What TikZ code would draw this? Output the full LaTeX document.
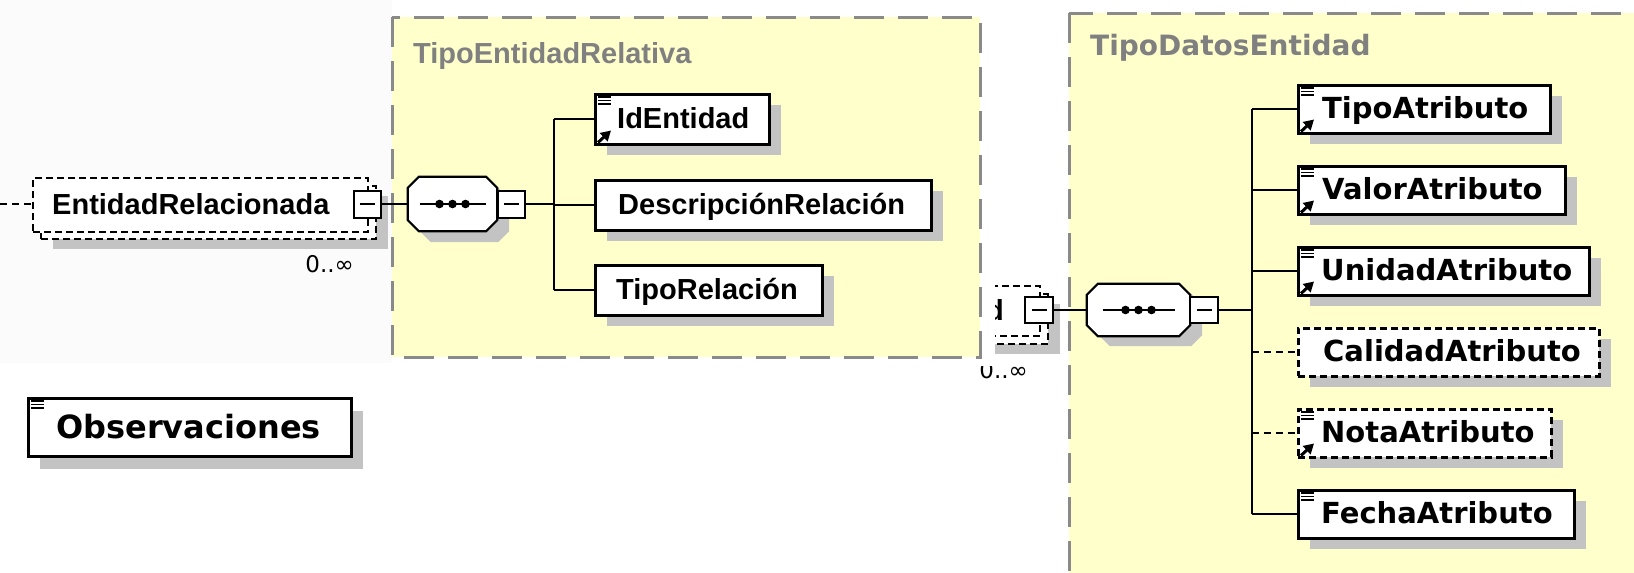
\documentclass[tikz,border=0pt]{standalone}
\usepackage{fontspec}
\newfontfamily\lsans{Liberation Sans}
\newfontfamily\dsans{DejaVu Sans}
\usetikzlibrary{calc,shadows,arrows.meta}
\definecolor{ylw}{RGB}{255,255,204}
\definecolor{frameg}{RGB}{138,138,138}
\definecolor{titleg}{RGB}{128,128,128}
\definecolor{shadowc}{RGB}{195,195,195}
\definecolor{panelg}{RGB}{251,251,251}
\tikzset{
  elbox/.style={draw=black, line width=2.5pt, fill=white, inner sep=0pt, anchor=north west,
     general shadow={fill=shadowc, shadow xshift=12pt, shadow yshift=-11pt}},
  optbox/.style={elbox, dash pattern=on 7pt off 4pt},
  stackbox/.style={draw=black, line width=2.2pt, fill=white, inner sep=0pt, anchor=north west, dash pattern=on 7pt off 4pt},
  ltext/.style={font=\lsans\bfseries\fontsize{29}{34}\selectfont, inner sep=0pt, anchor=base west},
  rtext/.style={font=\dsans\bfseries\fontsize{29}{34}\selectfont, inner sep=0pt, anchor=base west},
  titletext/.style={text=titleg, inner sep=0pt, anchor=base west},
  multtext/.style={font=\dsans\fontsize{23}{26}\selectfont, inner sep=0pt, anchor=north east},
  typebox/.style={draw=frameg, line width=3pt, fill=ylw, dash pattern=on 30pt off 14pt},
  conn/.style={line width=2pt},
  optconn/.style={conn, dash pattern=on 7pt off 5pt},
  minusbox/.style={draw=black, line width=2pt, fill=white, minimum width=27pt, minimum height=27pt, inner sep=0pt},
  seqholder/.style={inner sep=0pt, minimum height=54pt}
}
\newcommand{\docicon}[1]{%
  \foreach \dy in {4,7.5,11} {\draw[line width=1.8pt] ($(#1.north west)+(4,\dy)$) -- ++(13,0);}}
\newcommand{\refarrow}[1]{%
  \draw[line width=3pt, -{Triangle[length=10pt,width=11pt]}] ($(#1.south west)+(4,-3)$) -- ++(13,-12);}
\newcommand{\octpath}[3]{($(#1.north west)+(11+#2,#3)$) -- ($(#1.north east)+(-11+#2,#3)$) -- ($(#1.north east)+(#2,11+#3)$) -- ($(#1.south east)+(#2,-11+#3)$) -- ($(#1.south east)+(-11+#2,#3)$) -- ($(#1.south west)+(11+#2,#3)$) -- ($(#1.south west)+(#2,-11+#3)$) -- ($(#1.north west)+(#2,11+#3)$) -- cycle}
\newcommand{\seqdots}[2]{%
  \draw[line width=2.2pt] ($(#1.center)+(-#2,0)$) -- ($(#1.center)+(#2,0)$);
  \foreach \d in {-13,0,13} {\fill ($(#1.center)+(\d,0)$) circle (4.3pt);}}
\begin{document}
\begin{tikzpicture}[x=1pt,y=-1pt]
\useasboundingbox (0,0) rectangle (1634,573);
\clip (0,0) rectangle (1634,573);
\fill[white] (0,0) rectangle (1634,573);
\fill[panelg] (0,0) rectangle (392,363);

% type boxes
\draw[typebox] (392,17) rectangle (980,357);
\node[titletext, font=\lsans\bfseries\fontsize{29}{34}\selectfont] (t1) at (413,63) {TipoEntidadRelativa};
\draw[typebox] (1069,13) rectangle (1660,600);
\node[titletext, font=\dsans\bfseries\fontsize{28}{32}\selectfont] (t2) at (1090,55) {TipoDatosEntidad};

% EntidadRelacionada (stacked, optional)
\node[stackbox, minimum width=335pt, minimum height=53pt,
      general shadow={fill=shadowc, shadow xshift=12pt, shadow yshift=-10pt}] (erb) at (40,185) {};
\node[stackbox, minimum width=335pt, minimum height=54pt] (er) at (32,177) {};
\node[ltext] (ert) at (52,214) {EntidadRelacionada};
\node[minusbox] (erm) at (367,204) {\rule{15pt}{2pt}};
\node[multtext] (erx) at (354,255) {0..∞};
\coordinate (lead) at (0,204);
\draw[optconn] (lead) -- (lead -| er.west);

% sequence 1
\node[seqholder, minimum width=89pt] (seq1) at (452.5,204) {};
\fill[shadowc] \octpath{seq1}{12}{11};
\draw[line width=2.2pt, fill=white] \octpath{seq1}{0}{0};
\seqdots{seq1}{33}
\node[minusbox] (m1) at (511.5,204) {\rule{15pt}{2pt}};
\draw[conn] (erm.east) -- (seq1.west);

% children of TipoEntidadRelativa
\node[elbox, minimum width=174pt, minimum height=50pt] (id) at (594,93) {};
\node[elbox, minimum width=336pt, minimum height=50pt] (dr) at (594,179) {};
\node[elbox, minimum width=227pt, minimum height=50pt] (tr) at (594,264) {};
\node[ltext] (idt) at (617,128.5) {IdEntidad};
\node[ltext] (drt) at (618,214.5) {DescripciónRelación};
\node[ltext] (trt) at (616,299.5) {TipoRelación};
\docicon{id}\refarrow{id}
\coordinate (b1) at (554,204);
\draw[conn] (m1.east) -- (b1);
\draw[conn] (b1 |- id.west) -- (b1 |- tr.west);
\draw[conn] (b1 |- id.west) -- (id.west);
\draw[conn] (b1 |- dr.west) -- (dr.west);
\draw[conn] (b1 |- tr.west) -- (tr.west);

% partial element (cut off)
\begin{scope}
\clip (995,270) rectangle (1068,360);
\node[stackbox, minimum width=139pt, minimum height=50pt,
      general shadow={fill=shadowc, shadow xshift=12pt, shadow yshift=-10pt}] (peb) at (908,293) {};
\node[stackbox, minimum width=139pt, minimum height=50pt] (pe) at (900,285) {};
\node[ltext, anchor=base east] (pet) at (1004,320) {Entidad};
\end{scope}
\node[minusbox, minimum width=28pt, minimum height=26pt] (pm) at (1039,310) {\rule{15pt}{2pt}};
\begin{scope}
\clip (950,366) rectangle (1040,390);
\node[multtext] (pex) at (1028,361) {0..∞};
\end{scope}

% sequence 2
\node[seqholder, minimum width=103pt, minimum height=52pt] (seq2) at (1138.5,310) {};
\fill[shadowc] \octpath{seq2}{12}{10};
\draw[line width=2.2pt, fill=white] \octpath{seq2}{0}{0};
\seqdots{seq2}{36}
\node[minusbox, minimum width=28pt, minimum height=26pt] (m2) at (1204,310) {\rule{15pt}{2pt}};
\draw[conn] (pm.east) -- (seq2.west);

% children of TipoDatosEntidad
\node[elbox, minimum width=252pt, minimum height=48pt] (ta) at (1297,84) {};
\node[elbox, minimum width=267pt, minimum height=48pt] (va) at (1297,165) {};
\node[elbox, minimum width=291pt, minimum height=48pt] (ua) at (1297,246) {};
\node[optbox, minimum width=301pt, minimum height=48pt] (ca) at (1297,327) {};
\node[optbox, minimum width=253pt, minimum height=48pt] (na) at (1297,408) {};
\node[elbox, minimum width=276pt, minimum height=48pt] (fa) at (1297,489) {};
\node[rtext] (tat) at (1322,118.5) {TipoAtributo};
\node[rtext] (vat) at (1322,199.5) {ValorAtributo};
\node[rtext] (uat) at (1321,280.5) {UnidadAtributo};
\node[rtext] (cat) at (1323,361.5) {CalidadAtributo};
\node[rtext] (nat) at (1321,442.5) {NotaAtributo};
\node[rtext] (fat) at (1321,523.5) {FechaAtributo};
\docicon{ta}\refarrow{ta}
\docicon{va}\refarrow{va}
\docicon{ua}\refarrow{ua}
\docicon{na}\refarrow{na}
\docicon{fa}
\coordinate (b2) at (1252,310);
\draw[conn] (m2.east) -- (b2);
\draw[conn] (b2 |- ta.west) -- (b2 |- fa.west);
\draw[conn] (b2 |- ta.west) -- (ta.west);
\draw[conn] (b2 |- va.west) -- (va.west);
\draw[conn] (b2 |- ua.west) -- (ua.west);
\draw[optconn] (b2 |- ca.west) -- (ca.west);
\draw[optconn] (b2 |- na.west) -- (na.west);
\draw[conn] (b2 |- fa.west) -- (fa.west);

% Observaciones
\node[draw=black, line width=2.5pt, fill=white, inner sep=0pt, anchor=north west,
      minimum width=323pt, minimum height=58pt,
      general shadow={fill=shadowc, shadow xshift=12pt, shadow yshift=-13pt}] (obs) at (27,397) {};
\node[rtext, font=\dsans\bfseries\fontsize{32}{36}\selectfont] (obst) at (56,438) {Observaciones};
\docicon{obs}
\end{tikzpicture}
\end{document}
